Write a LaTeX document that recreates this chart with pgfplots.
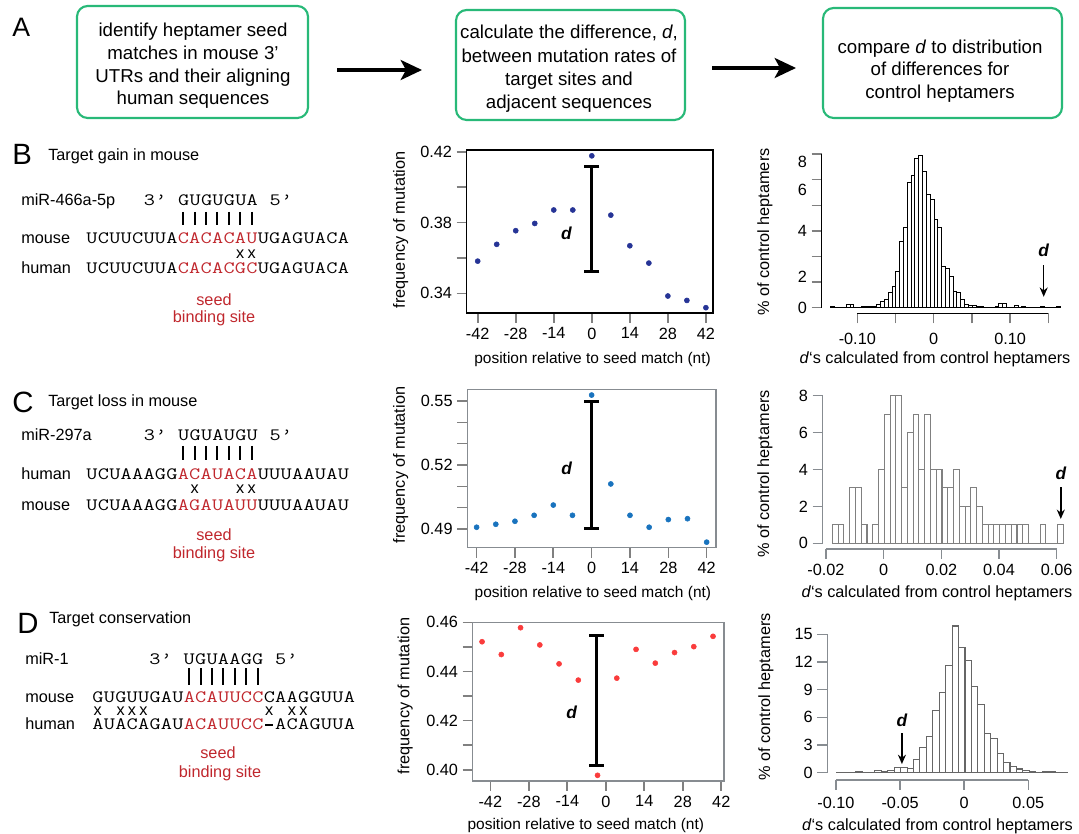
\documentclass[border=0pt]{standalone}
\usepackage{fontspec}
\setmainfont{Liberation Sans}
\usepackage{graphicx}
\usepackage{pgfplots}
\pgfplotsset{compat=1.18}
\usetikzlibrary{arrows.meta}
\definecolor{boxgreen}{RGB}{40,185,120}
\definecolor{seedred}{RGB}{192,39,45}
\definecolor{dotB}{RGB}{38,52,150}
\definecolor{dotC}{RGB}{25,115,190}
\definecolor{dotD}{RGB}{250,60,60}
\definecolor{fgray}{RGB}{135,140,145}
\newcommand{\sq}{\ttfamily\fontsize{13}{16}\selectfont}
\newcommand{\lab}{\fontsize{12.2}{14}\selectfont}
\ExplSyntaxOn
\NewDocumentCommand{\mono}{m}{\tl_map_inline:nn {#1} {\makebox[8.57pt][c]{\scalebox{1.25}[1]{##1}}}}
\ExplSyntaxOff
\newcommand{\gap}{\makebox[8.57pt]{}}

\pgfplotstableread{
x y
-0.135 0.05
-0.130 0.03
-0.125 0.02
-0.120 0.03
-0.115 0.17
-0.110 0.17
-0.105 0.03
-0.100 0.02
-0.095 0.05
-0.090 0.05
-0.085 0.06
-0.080 0.09
-0.075 0.17
-0.070 0.31
-0.065 0.43
-0.060 0.82
-0.055 1.10
-0.050 1.90
-0.045 3.44
-0.040 4.17
-0.035 6.50
-0.030 6.86
-0.025 7.78
-0.020 7.90
-0.015 7.10
-0.010 5.87
-0.005 5.64
0.000 4.60
0.005 4.17
0.010 2.17
0.015 2.05
0.020 1.65
0.025 0.87
0.030 0.82
0.035 0.43
0.040 0.17
0.045 0.12
0.050 0.12
0.055 0.09
0.060 0.05
0.065 0.03
0.070 0.02
0.075 0.02
0.080 0.05
0.085 0.22
0.090 0.22
0.095 0.03
0.100 0.03
0.105 0.12
0.110 0.03
0.115 0.07
0.120 0.02
0.125 0.02
0.130 0.03
0.135 0.02
0.140 0.07
0.145 0.02
0.150 0.03
0.155 0.02
0.160 0.07
0.165 0
}\histB

\pgfplotstableread{
x y
-0.018 1
-0.016 1
-0.014 0
-0.012 3
-0.010 3
-0.008 1
-0.006 0
-0.004 1
-0.002 4
0.000 7
0.002 8
0.004 8
0.006 3
0.008 6
0.010 7
0.012 4
0.014 7
0.016 4
0.018 4
0.020 3
0.022 3
0.024 4
0.026 2
0.028 2
0.030 3
0.032 2
0.034 1
0.036 1
0.038 1
0.040 1
0.042 1
0.044 1
0.046 1
0.048 1
0.050 0
0.052 0
0.054 1
0.056 0
0.058 0
0.060 1
0.062 0
}\histC

\pgfplotstableread{
x y
-0.100 0.05
-0.095 0.05
-0.090 0.05
-0.085 0.15
-0.080 0.05
-0.075 0.05
-0.070 0.2
-0.065 0.1
-0.060 0.25
-0.055 0.55
-0.050 0.6
-0.045 0.5
-0.040 1.4
-0.035 2.7
-0.030 3.9
-0.025 6.7
-0.020 8.7
-0.015 11.6
-0.010 15.9
-0.005 13.6
0.000 12.2
0.005 9.3
0.010 7.4
0.015 4.2
0.020 3.7
0.025 2.1
0.030 1.1
0.035 0.7
0.040 0.4
0.045 0.2
0.050 0.1
0.055 0.05
0.060 0.1
0.065 0.15
0.070 0.05
0.075 0.05
0.080 0
}\histD

\pgfplotsset{
  scat/.style={
    scale only axis, clip=false,
    axis line style={line width=1.1pt},
    tick align=outside,
    major tick length=7.5pt, minor tick length=7.5pt,
    tick style={line width=1.2pt, color=gray},
    xtick={-42,-28,-14,0,14,28,42},
    xticklabels={-42,-28,-14,0,14,28,42},
    xtick pos=left, ytick pos=left,
    tick label style={font=\lab},
    /pgf/number format/assume math mode=true,
    yticklabel style={/pgf/number format/fixed, /pgf/number format/fixed zerofill, /pgf/number format/precision=2},
    xlabel={position relative to seed match (nt)},
    ylabel={frequency of mutation},
    xlabel style={font=\fontsize{11.6}{13}\selectfont, anchor=center},
    ylabel style={font=\lab, anchor=center},
  },
  hist/.style={
    scale only axis, clip=false,
    axis x line=none, axis y line=left,
    axis line style={-, line width=1.1pt},
    tick align=outside, major tick length=7.5pt,
    ytick pos=left, tick style={line width=1.1pt},
    tick label style={font=\lab},
    scaled ticks=false,
    /pgf/number format/assume math mode=true,
    ylabel={\% of control heptamers},
    ylabel style={font=\lab, anchor=center},
  },
  xax/.style={
    scale only axis, clip=false, height=1pt, ymin=0, ymax=1, ytick=\empty,
    axis y line=none, axis x line=bottom,
    axis line style={-, line width=1.1pt},
    tick align=outside, major tick length=7.5pt,
    xtick pos=left, tick style={line width=1.1pt},
    tick label style={font=\lab},
    scaled ticks=false,
    xlabel={\textit{d}‘s calculated from control heptamers},
    xlabel style={font=\lab, anchor=center},
  },
}

\begin{document}
\begin{tikzpicture}[x=0.75pt,y=-0.75pt]
\useasboundingbox (0,0) rectangle (1079,834);

% ---------------- Panel A ----------------
\node[anchor=base west, inner sep=0, font=\fontsize{20}{20}\selectfont] at (12,37) {A};
\draw[boxgreen, line width=1.6pt, rounded corners=8pt] (77,6) rectangle (308,118);
\draw[boxgreen, line width=1.6pt, rounded corners=8pt] (456,10) rectangle (685,120);
\draw[boxgreen, line width=1.6pt, rounded corners=8pt] (823,8) rectangle (1062,118);
\node[align=center, font=\fontsize{14}{17}\selectfont] at (193,66) {identify heptamer seed\\matches in mouse 3’\\UTRs and their aligning\\human sequences};
\node[align=center, font=\fontsize{14}{17.5}\selectfont] at (569,69) {calculate the difference, \textit{d},\\between mutation rates of\\target sites and\\adjacent sequences};
\node[align=center, font=\fontsize{14}{17}\selectfont] at (940,71) {compare \textit{d} to distribution\\of differences for\\control heptamers};
\draw[line width=2.5pt, -{Stealth[length=16pt,width=15pt,inset=4pt]}] (337,70) -- (422,70);
\draw[line width=2.5pt, -{Stealth[length=16pt,width=15pt,inset=4pt]}] (712,68) -- (796,68);

% ---------------- Panel B text ----------------
\node[anchor=base west, inner sep=0, font=\fontsize{22}{22}\selectfont] at (12,165) {B};
\node[anchor=base west, inner sep=0, font=\lab] at (48,160.5) {Target gain in mouse};
\node[anchor=base west, inner sep=0, font=\lab] at (21,205.4) {miR-466a-5p};
\node[anchor=base west, inner sep=0] at (143.5,205.4) {\sq\mono{3’}\gap\mono{GUGUGUA}\gap\mono{5’}};
\foreach \c in {183.2,194.6,206.0,217.4,228.9,240.3,251.7} \draw[line width=1.6pt] (\c,212) -- (\c,225);
\node[anchor=base west, inner sep=0, font=\lab] at (21,243.4) {mouse};
\node[anchor=base west, inner sep=0] at (86,243.4) {\sq\mono{UCUUCUUA}\textcolor{seedred}{\mono{CACACAU}}\mono{UGAGUACA}};
\foreach \c in {240.3,251.7} \node[font=\lab, inner sep=0] at (\c,254) {x};
\node[anchor=base west, inner sep=0, font=\lab] at (21,273.4) {human};
\node[anchor=base west, inner sep=0] at (86,273.4) {\sq\mono{UCUUCUUA}\textcolor{seedred}{\mono{CACACGC}}\mono{UGAGUACA}};
\node[font=\lab, text=seedred, inner sep=0] at (214,300) {seed};
\node[font=\lab, text=seedred, inner sep=0] at (214,318) {binding site};

% ---------------- Panel C text ----------------
\node[anchor=base west, inner sep=0, font=\fontsize{22}{22}\selectfont] at (12,413) {C};
\node[anchor=base west, inner sep=0, font=\lab] at (48,406.5) {Target loss in mouse};
\node[anchor=base west, inner sep=0, font=\lab] at (21,440.4) {miR-297a};
\node[anchor=base west, inner sep=0] at (143.5,440.4) {\sq\mono{3’}\gap\mono{UGUAUGU}\gap\mono{5’}};
\foreach \c in {183.2,194.6,206.0,217.4,228.9,240.3,251.7} \draw[line width=1.6pt] (\c,446) -- (\c,460);
\node[anchor=base west, inner sep=0, font=\lab] at (21,479.4) {human};
\node[anchor=base west, inner sep=0] at (86,479.4) {\sq\mono{UCUAAAGG}\textcolor{seedred}{\mono{ACAUACA}}\mono{UUUAAUAU}};
\foreach \c in {194.6,240.3,251.7} \node[font=\lab, inner sep=0] at (\c,489) {x};
\node[anchor=base west, inner sep=0, font=\lab] at (21,510.4) {mouse};
\node[anchor=base west, inner sep=0] at (86,510.4) {\sq\mono{UCUAAAGG}\textcolor{seedred}{\mono{AGAUAUU}}\mono{UUUAAUAU}};
\node[font=\lab, text=seedred, inner sep=0] at (214,535) {seed};
\node[font=\lab, text=seedred, inner sep=0] at (214,554) {binding site};

% ---------------- Panel D text ----------------
\node[anchor=base west, inner sep=0, font=\fontsize{22}{22}\selectfont] at (17,633) {D};
\node[anchor=base west, inner sep=0, font=\lab] at (49,623.5) {Target conservation};
\node[anchor=base west, inner sep=0, font=\lab] at (25,664.4) {miR-1};
\node[anchor=base west, inner sep=0] at (149,664.4) {\sq\mono{3’}\gap\mono{UGUAAGG}\gap\mono{5’}};
\foreach \c in {189.2,200.6,212.0,223.4,234.9,246.3,257.7} \draw[line width=1.6pt] (\c,668) -- (\c,685);
\node[anchor=base west, inner sep=0, font=\lab] at (25,702.4) {mouse};
\node[anchor=base west, inner sep=0] at (92,702.4) {\sq\mono{GUGUUGAU}\textcolor{seedred}{\mono{ACAUUCC}}\mono{CAAGGUUA}};
\foreach \c in {97.7,120.6,132.0,143.4,269.1,292.0,303.4} \node[font=\lab, inner sep=0] at (\c,711) {x};
\node[anchor=base west, inner sep=0, font=\lab] at (25,729.4) {human};
\node[anchor=base west, inner sep=0] at (92,729.4) {\sq\mono{AUACAGAU}\textcolor{seedred}{\mono{ACAUUCC}}\makebox[8.57pt][c]{\rule[0.22em]{6pt}{1.4pt}}\mono{ACAGUUA}};
\node[font=\lab, text=seedred, inner sep=0] at (218,753) {seed};
\node[font=\lab, text=seedred, inner sep=0] at (220,773) {binding site};

% anchor coordinates
\coordinate (sB) at (466.7,150);
\coordinate (sC) at (467.3,389.3);
\coordinate (sD) at (472.7,622.3);
\coordinate (hB) at (821.7,154);
\coordinate (hC) at (822.7,395.7);
\coordinate (hD) at (827.3,634.3);
\coordinate (xB) at (857.3,313.3);
\coordinate (xC) at (826,549);
\coordinate (xD) at (836,780);

% ---------------- Scatter B ----------------
\begin{axis}[scat, at={(sB)}, anchor=north west, width=184.7pt, height=122.25pt,
  xmin=-46.05, xmax=44.6, ymin=0.3289, ymax=0.421,
  ytick={0.34,0.38,0.42}, minor ytick={0.36,0.40},
  xlabel style={at={(axis description cs:0.511,0)}, yshift=-34.7pt},
  ylabel style={at={(axis description cs:-0.268,0.51)}}]
\addplot[only marks, mark=*, mark size=1.9pt, color=dotB] coordinates {
(-42,0.3582) (-35,0.3677) (-28,0.3754) (-21,0.3795) (-14,0.3871) (-7,0.3871) (0,0.4177)
(7,0.3842) (14,0.3669) (21,0.3571) (28,0.3385) (35,0.3360) (42,0.3319)};
\addplot[black, line width=2.25pt] coordinates {(0,0.3526) (0,0.4119)};
\addplot[only marks, mark=-, mark size=5.6pt, mark options={line width=2.25pt, black}] coordinates {(0,0.3526) (0,0.4119)};
\node[font=\fontsize{13}{13}\selectfont\bfseries\itshape] at (axis cs:-9.3,0.374) {d};
\end{axis}

% ---------------- Scatter C ----------------
\begin{axis}[scat, at={(sC)}, anchor=north west, width=186.5pt, height=118.8pt,
  axis line style={fgray},
  xmin=-45.4, xmax=45.4, ymin=0.4812, ymax=0.5555,
  ytick={0.49,0.52,0.55}, minor ytick={0.50,0.51,0.53,0.54},
  xlabel style={at={(axis description cs:0.505,0)}, yshift=-34.2pt},
  ylabel style={at={(axis description cs:-0.268,0.522)}}]
\addplot[only marks, mark=*, mark size=1.9pt, color=dotC] coordinates {
(-42,0.4908) (-35,0.4922) (-28,0.4936) (-21,0.4964) (-14,0.5012) (-7,0.4964) (0,0.5528)
(7,0.5111) (14,0.4964) (21,0.4908) (28,0.4944) (35,0.4948) (42,0.4838)};
\addplot[black, line width=2.25pt] coordinates {(0,0.49) (0,0.55)};
\addplot[only marks, mark=-, mark size=5.6pt, mark options={line width=2.25pt, black}] coordinates {(0,0.49) (0,0.55)};
\node[font=\fontsize{13}{13}\selectfont\bfseries\itshape] at (axis cs:-9.1,0.5186) {d};
\end{axis}

% ---------------- Scatter D ----------------
\begin{axis}[scat, at={(sD)}, anchor=north west, width=188.5pt, height=119pt,
  axis line style={fgray},
  xmin=-48.4, xmax=43, ymin=0.3955, ymax=0.46,
  ytick={0.40,0.42,0.44,0.46}, minor ytick={0.41,0.43,0.45},
  xlabel style={at={(axis description cs:0.45,0)}, yshift=-33.75pt},
  ylabel style={at={(axis description cs:-0.269,0.536)}}]
\addplot[only marks, mark=*, mark size=1.9pt, color=dotD] coordinates {
(-45,0.4521) (-38,0.4469) (-31,0.4578) (-24,0.4508) (-17,0.4431) (-10,0.4365) (-3,0.3978)
(4,0.4373) (11,0.4490) (18,0.4434) (25,0.4477) (32,0.4501) (39,0.4543)};
\addplot[black, line width=2.25pt] coordinates {(-3.5,0.4016) (-3.5,0.4546)};
\addplot[only marks, mark=-, mark size=5.6pt, mark options={line width=2.25pt, black}] coordinates {(-3.5,0.4016) (-3.5,0.4546)};
\node[font=\fontsize{13}{13}\selectfont\bfseries\itshape] at (axis cs:-12.4,0.4233) {d};
\end{axis}

% ---------------- Histogram B ----------------
\begin{axis}[hist, at={(hB)}, anchor=north west, width=180.2pt, height=115.3pt,
  xmin=-0.147, xmax=0.1675, ymin=0, ymax=8,
  ytick={0,1.3333,2.6667,4,5.3333,6.6667,8}, yticklabels={},
  extra y ticks={0,1.61,4.0,6.13,7.6}, extra y tick labels={0,2,4,6,8},
  extra y tick style={tick style={draw=none}},
  ylabel style={at={(axis description cs:-0.236,0.4925)}}]
\addplot[ybar interval, fill=white, draw=black, line width=0.7pt] table[x=x,y=y] {\histB};
\draw[-{Stealth[length=7pt,width=6pt]}, line width=1.1pt] (axis cs:0.1436,2.22) -- (axis cs:0.1436,0.57);
\node[font=\fontsize{13}{13}\selectfont\bfseries\itshape] at (axis cs:0.1436,3.0) {d};
\end{axis}
\begin{axis}[xax, at={(xB)}, anchor=south west, width=143.25pt,
  xmin=-0.1, xmax=0.15, xtick={-0.1,-0.05,0,0.05,0.1,0.15}, xticklabels={-0.10,,0,,0.10,},
  xticklabel style={yshift=-4pt},
  xlabel style={at={(axis description cs:0.407,0)}, yshift=-34.5pt}]
\addplot[draw=none] coordinates {(0,0.5)};
\end{axis}

% ---------------- Histogram C ----------------
\begin{axis}[hist, at={(hC)}, anchor=north west, width=180.3pt, height=110.7pt,
  axis line style={fgray}, tick style={fgray},
  xmin=-0.02137, xmax=0.062, ymin=0, ymax=8,
  ytick={0,2,4,6,8},
  ylabel style={at={(axis description cs:-0.24,0.47)}}]
\addplot[ybar interval, fill=white, draw=gray, line width=0.8pt] table[x=x,y=y] {\histC};
\draw[-{Stealth[length=7pt,width=6pt]}, line width=1.1pt] (axis cs:0.0612,3.05) -- (axis cs:0.0612,1.32);
\node[font=\fontsize{13}{13}\selectfont\bfseries\itshape] at (axis cs:0.0612,3.81) {d};
\end{axis}
\begin{axis}[xax, at={(xC)}, anchor=south west, width=173pt,
  axis line style={fgray}, tick style={fgray},
  xmin=-0.02, xmax=0.06, xtick={-0.02,0,0.02,0.04,0.06}, xticklabels={-0.02,0,0.02,0.04,0.06},
  xlabel style={at={(axis description cs:0.481,0)}, yshift=-33.2pt}]
\addplot[draw=none] coordinates {(0,0.5)};
\end{axis}

% ---------------- Histogram D ----------------
\begin{axis}[hist, at={(hD)}, anchor=north west, width=182pt, height=103.8pt,
  axis line style={fgray}, tick style={fgray},
  xmin=-0.107, xmax=0.0816, ymin=0, ymax=15,
  ytick={0,3,6,9,12,15},
  ylabel style={at={(axis description cs:-0.2526,0.547)}}]
\addplot[ybar interval, fill=white, draw=gray!80!black, line width=0.8pt] table[x=x,y=y] {\histD};
\draw[-{Stealth[length=7pt,width=6pt]}, line width=1.1pt] (axis cs:-0.049,4.27) -- (axis cs:-0.049,0.94);
\node[font=\fontsize{13}{13}\selectfont\bfseries\itshape] at (axis cs:-0.049,5.7) {d};
\end{axis}
\begin{axis}[xax, at={(xD)}, anchor=south west, width=144.2pt,
  axis line style={fgray}, tick style={fgray},
  xmin=-0.1, xmax=0.05, xtick={-0.1,-0.05,0,0.05}, xticklabels={-0.10,-0.05,0,0.05},
  xticklabel style={yshift=-1.5pt},
  xlabel style={at={(axis description cs:0.528,0)}, yshift=-35pt}]
\addplot[draw=none] coordinates {(0,0.5)};
\end{axis}
\end{tikzpicture}
\end{document}
